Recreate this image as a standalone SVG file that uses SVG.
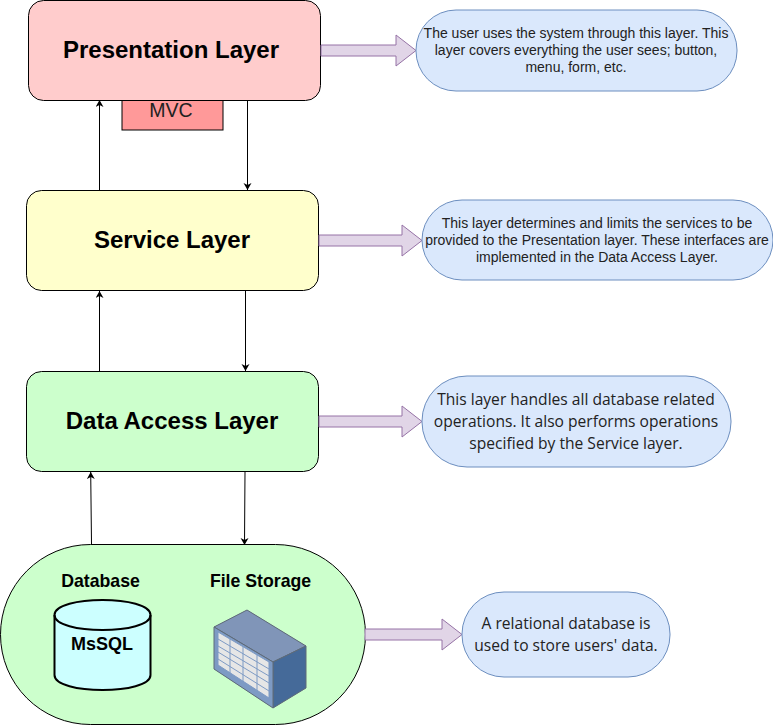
<svg xmlns="http://www.w3.org/2000/svg" width="773" height="726" viewBox="0 0 773 726">
<style>
text{font-family:"Liberation Sans",Arial,sans-serif;text-anchor:middle;fill:#000}
.layer{stroke:#000;stroke-width:1}
.title{font-size:24px;font-weight:bold}
.sub{font-size:17.700px;font-weight:bold}
.note{fill:#dae8fc;stroke:#6c8ebf;stroke-width:1}
.n12{font-size:14px;fill:#222}
.n14{font-family:"Open Sans","Noto Sans",sans-serif;font-size:15.600px;fill:#222}
.big{fill:#e1d5e7;stroke:#9673a6;stroke-width:1}
.c{fill:none;stroke:#000;stroke-width:1;marker-end:url(#a)}
</style>
<defs>
<marker id="a" markerUnits="userSpaceOnUse" markerWidth="8" markerHeight="9" refX="7" refY="4" orient="auto"><path d="M0 0L7 4L0 8L2 4Z" fill="#000"/></marker>
</defs>
<g id="mvc"><rect x="122" y="100" width="101" height="30" fill="#ff9999" stroke="#000"/><text x="171" y="117" font-size="19.500" style="fill:#222">MVC</text></g>
<g id="presentation"><rect class="layer" x="28.500" y="0.500" width="292" height="100" rx="15" fill="#ffcccc"/><text class="title" x="171" y="58">Presentation Layer</text></g>
<g id="service"><rect class="layer" x="26.500" y="190.500" width="292" height="100" rx="15" fill="#ffffcc"/><text class="title" x="172" y="248">Service Layer</text></g>
<g id="data"><rect class="layer" x="26.500" y="371.500" width="292" height="100" rx="15" fill="#ccffcc"/><text class="title" x="172" y="429">Data Access Layer</text></g>
<g id="storage">
<rect class="layer" x="0.500" y="544.500" width="365" height="180" rx="90" fill="#ccffcc"/>
<text class="sub" x="100.500" y="587">Database</text>
<text class="sub" x="260.500" y="587">File Storage</text>
</g>
<g id="mssql">
<path d="M54.500 615C54.500 595 150.500 595 150.500 615V675C150.500 695 54.500 695 54.500 675Z" fill="#ccffff" stroke="#000" stroke-width="2"/>
<path d="M54.500 615C54.500 635 150.500 635 150.500 615" fill="none" stroke="#000" stroke-width="2"/>
<text class="sub" x="102" y="650" style="font-size:18px">MsSQL</text>
</g>
<g id="file-storage">
<path d="M214 627L247 610L306 646V688L273 708L214 669Z" fill="#7f93b5"/>
<path d="M214 627L247 610L306 646L273 662Z" fill="#8095b8" stroke="#5f6b78"/>
<path d="M273 662L306 646V688L273 708Z" fill="#456a99" stroke="#5f6b78"/>
<path d="M214 627L273 662V708L214 669Z" fill="#7d9ac4" stroke="#5f6b78"/>
<path d="M218 632L269 662V698L218 665Z" fill="#e6e6e6" stroke="#7d9ac4"/>
<path d="M218 639L269 669M218 646L269 676M218 652L269 683M218 659L269 691M230 639V673M243 647V681M257 655V690" fill="none" stroke="#7d9ac4" stroke-width="1"/>
</g>
<g id="connectors">
<path class="c" d="M99.500 190V100"/>
<path class="c" d="M247.500 100V190"/>
<path class="c" d="M99.500 371V291"/>
<path class="c" d="M245.500 291V371"/>
<path class="c" d="M91.500 544L90.700 472"/>
<path class="c" d="M245 472L244.500 545"/>
</g>
<g id="arrows">
<path class="big" d="M321 45H396V35L416 50.500L396 66V56H321Z"/>
<path class="big" d="M319 235H402V225L422 240.500L402 256V246H319Z"/>
<path class="big" d="M319 416H402V406L422 421.500L402 437V427H319Z"/>
<path class="big" d="M365 629H442V619L462 634.500L442 650V640H365Z"/>
</g>
<g id="note1"><rect class="note" x="416" y="10" width="321" height="81" rx="40" /><text class="n12" x="576" y="38">The user uses the system through this layer. This</text><text class="n12" x="576" y="55">layer covers everything the user sees; button,</text><text class="n12" x="576" y="72">menu, form, etc.</text></g>
<g id="note2"><rect class="note" x="422" y="200" width="351" height="80" rx="40"/><text class="n12" x="597" y="228">This layer determines and limits the services to be</text><text class="n12" x="597" y="245">provided to the Presentation layer. These interfaces are</text><text class="n12" x="597" y="262">implemented in the Data Access Layer.</text></g>
<g id="note3"><rect class="note" x="422" y="376" width="309" height="91" rx="45"/><text class="n14" x="576" y="405">This layer handles all database related</text><text class="n14" x="576" y="427">operations. It also performs operations</text><text class="n14" x="576" y="449">specified by the Service layer.</text></g>
<g id="note4"><rect class="note" x="462" y="592" width="208" height="85" rx="42"/><text class="n14" x="566" y="629">A relational database is</text><text class="n14" x="566" y="651">used to store users' data.</text></g>
</svg>
